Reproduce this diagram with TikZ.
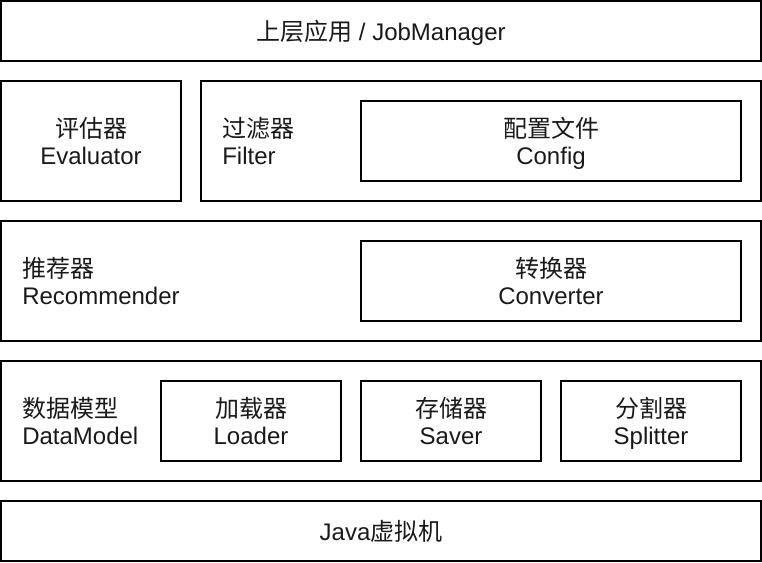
\documentclass[tikz,border=0pt]{standalone}
\usepackage{fontspec}
\setmainfont{Liberation Sans}
\newfontfamily\cjk{Noto Sans CJK SC}
\newcommand\dgfont{\fontsize{18pt}{20.25pt}\selectfont}
\newcommand\nodesc[1]{\raisebox{0pt}[\height][0pt]{#1}}
\begin{document}
\begin{tikzpicture}[x=0.75pt,y=-0.75pt,
  box/.style={draw, line width=1.5pt, inner sep=0pt, outer sep=0pt, align=center, font=\dgfont, text=black!90},
  wide/.style={minimum width=570pt},
  lbl/.style={inner sep=0pt, align=left, anchor=west, font=\dgfont, text=black!90}]
\useasboundingbox (0,0) rectangle (762,562);
\node[box, wide, minimum height=45pt] (app) at (381,31) {{\cjk 上层应用} / \nodesc{JobManager}};
\node[box, minimum width=135pt, minimum height=90pt] (eval) at (91,141) {{\cjk 评估器}\\Evaluator};
\node[box, minimum width=420pt, minimum height=90pt] (filter) at (481,141) {};
\node[lbl] (filterlbl) at (222,141) {{\cjk 过滤器}\\Filter};
\node[box, minimum width=285pt, minimum height=60pt] (config) at (551,141) {{\cjk 配置文件}\\\nodesc{Config}};
\node[box, wide, minimum height=90pt] (rec) at (381,281) {};
\node[lbl] (reclbl) at (22,281) {{\cjk 推荐器}\\Recommender};
\node[box, minimum width=285pt, minimum height=60pt] (conv) at (551,281) {{\cjk 转换器}\\Converter};
\node[box, wide, minimum height=90pt] (dm) at (381,421) {};
\node[lbl] (dmlbl) at (22,421) {{\cjk 数据模型}\\DataModel};
\node[box, minimum width=135pt, minimum height=60pt] (loader) at (251,421) {{\cjk 加载器}\\Loader};
\node[box, minimum width=135pt, minimum height=60pt] (saver) at (451,421) {{\cjk 存储器}\\Saver};
\node[box, minimum width=135pt, minimum height=60pt] (split) at (651,421) {{\cjk 分割器}\\\nodesc{Splitter}};
\node[box, wide, minimum height=45pt] (jvm) at (381,531) {Java{\cjk 虚拟机}};
\end{tikzpicture}
\end{document}
